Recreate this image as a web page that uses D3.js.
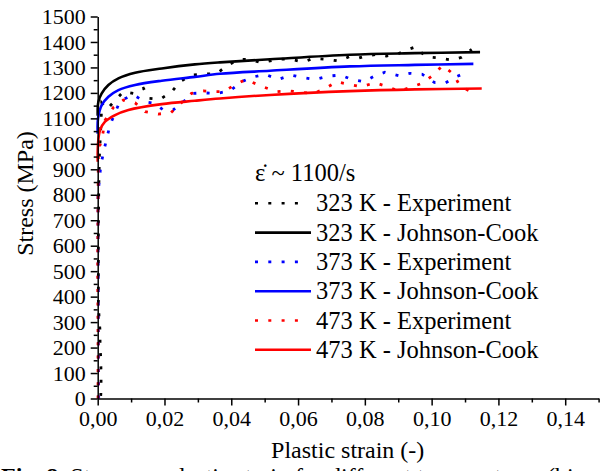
<!DOCTYPE html>
<html>
<head>
<meta charset="utf-8">
<script src="https://cdn.jsdelivr.net/npm/d3@7/dist/d3.min.js"></script>
<style>
  html, body { margin: 0; padding: 0; background: #fff; }
  svg { display: block; }
  text { font-family: "Liberation Serif", "Times New Roman", serif; fill: #000; }
</style>
</head>
<body>
<svg id="chart" width="601" height="471"></svg>
<script>
// ---- data -------------------------------------------------------------
const strainTicks = [0, 0.02, 0.04, 0.06, 0.08, 0.10, 0.12, 0.14];
const stressTicks = d3.range(0, 1501, 100);

// Johnson-Cook model curves
const jcStrain323 = [0, 0.0002, 0.0012, 0.0032, 0.0062, 0.0112, 0.0192, 0.0291, 0.0366, 0.0516, 0.0755, 0.095, 0.1145];
const jcStress323 = [1110, 1165, 1198, 1231, 1257, 1279, 1296, 1312, 1320, 1332, 1350, 1356, 1360];
const jcStrain373 = [0, 0.0001, 0.0012, 0.0032, 0.0062, 0.0112, 0.0192, 0.0291, 0.0366, 0.0516, 0.0755, 0.095, 0.1125];
const jcStress373 = [1040, 1100, 1152, 1185, 1211, 1231, 1248, 1263, 1275, 1287, 1304, 1310, 1314];
const jcStrain473 = [0, 0.0001, 0.0007, 0.0022, 0.0052, 0.0092, 0.0192, 0.0291, 0.0366, 0.0516, 0.0755, 0.095, 0.115];
const jcStress473 = [930, 1000, 1054, 1087, 1113, 1133, 1156, 1169, 1178, 1192, 1207, 1214, 1217];

// Experimental curves (Hopkinson bar, ~1100/s)
const expStrain323 = [0.0009, 0.0010, 0.0010, 0.0010, 0.0009, 0.0007, 0.0007, 0.0004, 0.0002, 0.0002, 0.0002, 0.0003, 0.0005, 0.0010, 0.0012, 0.0027, 0.0077, 0.0107, 0.0137, 0.0152, 0.0187, 0.0222, 0.0246, 0.0281, 0.0321, 0.0356, 0.0386, 0.0421, 0.0456, 0.0491, 0.0540, 0.0576, 0.0616, 0.0646, 0.0686, 0.0723, 0.0753, 0.0780, 0.0805, 0.0835, 0.0865, 0.0895, 0.0923, 0.0953, 0.0970, 0.0983, 0.1018, 0.1060, 0.1090, 0.1120];
const expStress323 = [10, 33, 66, 101, 158, 214, 265, 321, 380, 500, 650, 800, 950, 1087, 1160, 1135, 1205, 1198, 1218, 1179, 1175, 1205, 1244, 1270, 1274, 1276, 1305, 1332, 1332, 1318, 1333, 1333, 1321, 1336, 1332, 1325, 1342, 1336, 1346, 1351, 1345, 1351, 1368, 1381, 1358, 1342, 1338, 1329, 1340, 1371];
const expStrain373 = [0.0003, 0.0002, 0.0002, 0.0001, 0.0001, 0.0005, 0.0009, 0.0017, 0.0027, 0.0037, 0.0047, 0.0067, 0.0107, 0.0142, 0.0172, 0.0196, 0.0226, 0.0251, 0.0286, 0.0320, 0.0356, 0.0396, 0.0431, 0.0461, 0.0501, 0.0541, 0.0579, 0.0611, 0.0651, 0.0690, 0.0728, 0.0760, 0.0797, 0.0830, 0.0860, 0.0902, 0.0935, 0.0972, 0.1008, 0.1042, 0.1073, 0.1105];
const expStress373 = [0, 200, 400, 600, 805, 858, 913, 965, 1021, 1074, 1106, 1169, 1192, 1165, 1159, 1133, 1133, 1159, 1198, 1200, 1198, 1208, 1244, 1261, 1273, 1253, 1270, 1261, 1253, 1266, 1270, 1253, 1244, 1267, 1281, 1267, 1277, 1273, 1241, 1240, 1263, 1281];
const expStrain473 = [0.0001, 0.0001, 0.0000, 0.0001, 0.0002, 0.0007, 0.0014, 0.0022, 0.0047, 0.0077, 0.0112, 0.0142, 0.0181, 0.0219, 0.0249, 0.0281, 0.0316, 0.0351, 0.0376, 0.0401, 0.0420, 0.0443, 0.0466, 0.0499, 0.0536, 0.0573, 0.0609, 0.0646, 0.0678, 0.0716, 0.0750, 0.0790, 0.0830, 0.0862, 0.0902, 0.0933, 0.0970, 0.1002, 0.1033, 0.1065, 0.1085, 0.1120];
const expStress473 = [0, 250, 500, 750, 989, 995, 1028, 1093, 1143, 1172, 1161, 1126, 1117, 1122, 1159, 1198, 1208, 1205, 1205, 1224, 1237, 1253, 1240, 1222, 1205, 1208, 1202, 1198, 1215, 1244, 1234, 1224, 1240, 1227, 1207, 1220, 1237, 1267, 1308, 1274, 1227, 1203];

const seriesColors = ["#000000", "#0000ff", "#ff0000"];
const legendLabels = [
  "323 K - Experiment", "323 K - Johnson-Cook",
  "373 K - Experiment", "373 K - Johnson-Cook",
  "473 K - Experiment", "473 K - Johnson-Cook"
];

// ---- layout -----------------------------------------------------------
const svg = d3.select("#chart");
const x = d3.scaleLinear().domain([0, 0.15]).range([97.7, 598.6]);
const y = d3.scaleLinear().domain([0, 1500]).range([398.5, 16.5]);

const zip = (xs, ys) => xs.map((v, i) => [v, ys[i]]);
const series = [
  { exp: zip(expStrain323, expStress323), jc: zip(jcStrain323, jcStress323), color: seriesColors[0] },
  { exp: zip(expStrain373, expStress373), jc: zip(jcStrain373, jcStress373), color: seriesColors[1] },
  { exp: zip(expStrain473, expStress473), jc: zip(jcStrain473, jcStress473), color: seriesColors[2] }
];

const expLine = d3.line().x(d => x(d[0])).y(d => y(d[1]));
const jcLine = d3.line().x(d => x(d[0])).y(d => y(d[1])).curve(d3.curveCatmullRom.alpha(0.5));

// ---- curves -----------------------------------------------------------
const plot = svg.append("g");
series.forEach(s => {
  plot.append("path")
    .attr("d", expLine(s.exp))
    .attr("fill", "none")
    .attr("stroke", s.color)
    .attr("stroke-width", 2.8)
    .attr("stroke-dasharray", "3,10.3");
});
series.forEach(s => {
  plot.append("path")
    .attr("d", jcLine(s.jc))
    .attr("fill", "none")
    .attr("stroke", s.color)
    .attr("stroke-width", 2.6)
    .attr("stroke-linejoin", "round");
});

// ---- axes -------------------------------------------------------------
const fmtStrain = d => d3.format(".2f")(d).replace(".", ",");

svg.append("g").attr("transform", `translate(${x(0)},0)`)
  .call(d3.axisLeft(y).tickValues(stressTicks).tickSize(7).tickSizeOuter(0).tickPadding(5).tickFormat(d3.format("d")));
svg.append("g").attr("transform", `translate(${x(0)},0)`)
  .call(d3.axisLeft(y).tickValues(d3.range(50, 1500, 100)).tickSize(4).tickSizeOuter(0).tickFormat(""))
  .select(".domain").remove();

const xAxis = svg.append("g").attr("transform", `translate(0,${y(0)})`)
  .call(d3.axisBottom(x).tickValues(strainTicks).tickSize(7).tickSizeOuter(0).tickFormat(fmtStrain));
svg.append("g").attr("transform", `translate(0,${y(0)})`)
  .call(d3.axisBottom(x).tickValues(d3.range(0.01, 0.151, 0.02)).tickSize(4).tickSizeOuter(0).tickFormat(""))
  .select(".domain").remove();

svg.selectAll(".domain, .tick line").attr("stroke", "#000").attr("stroke-width", 1.5);
svg.selectAll(".tick text").attr("font-family", "Liberation Serif, Times New Roman, serif")
  .attr("font-size", 22).attr("fill", "#000");
xAxis.selectAll(".tick text").attr("dy", null).attr("y", 27.5);

// axis titles
svg.append("text")
  .attr("transform", "translate(33,193.5) rotate(-90)")
  .attr("text-anchor", "middle")
  .attr("font-size", 24)
  .text("Stress (MPa)");
svg.append("text")
  .attr("x", 347.7).attr("y", 458)
  .attr("text-anchor", "middle")
  .attr("font-size", 24)
  .text("Plastic strain (-)");

// figure caption (runs past the lower edge)
const cap = svg.append("text").attr("x", 1).attr("y", 484).attr("font-size", 24);
cap.append("tspan").attr("font-weight", "bold").text("Fig. 8. ");
cap.append("tspan").text("Stress vs. plastic strain for different temperatures (bi");

// ---- legend -----------------------------------------------------------
const legend = svg.append("g");
legend.append("text")
  .attr("x", 255).attr("y", 181)
  .attr("font-size", 24.5)
  .text("\u03B5\u0307 ~ 1100/s");

legendLabels.forEach((label, i) => {
  const cy = 203.3 + i * 29.3;
  const s = series[Math.floor(i / 2)];
  const dotted = i % 2 === 0;
  legend.append("line")
    .attr("x1", 255).attr("x2", dotted ? 300 : 311)
    .attr("y1", cy).attr("y2", cy)
    .attr("stroke", s.color)
    .attr("stroke-width", 2.6)
    .attr("stroke-dasharray", dotted ? "3,10.3" : null);
  legend.append("text")
    .attr("x", 316).attr("y", cy + 8)
    .attr("font-size", 24.5)
    .text(label);
});
</script>
</body>
</html>
